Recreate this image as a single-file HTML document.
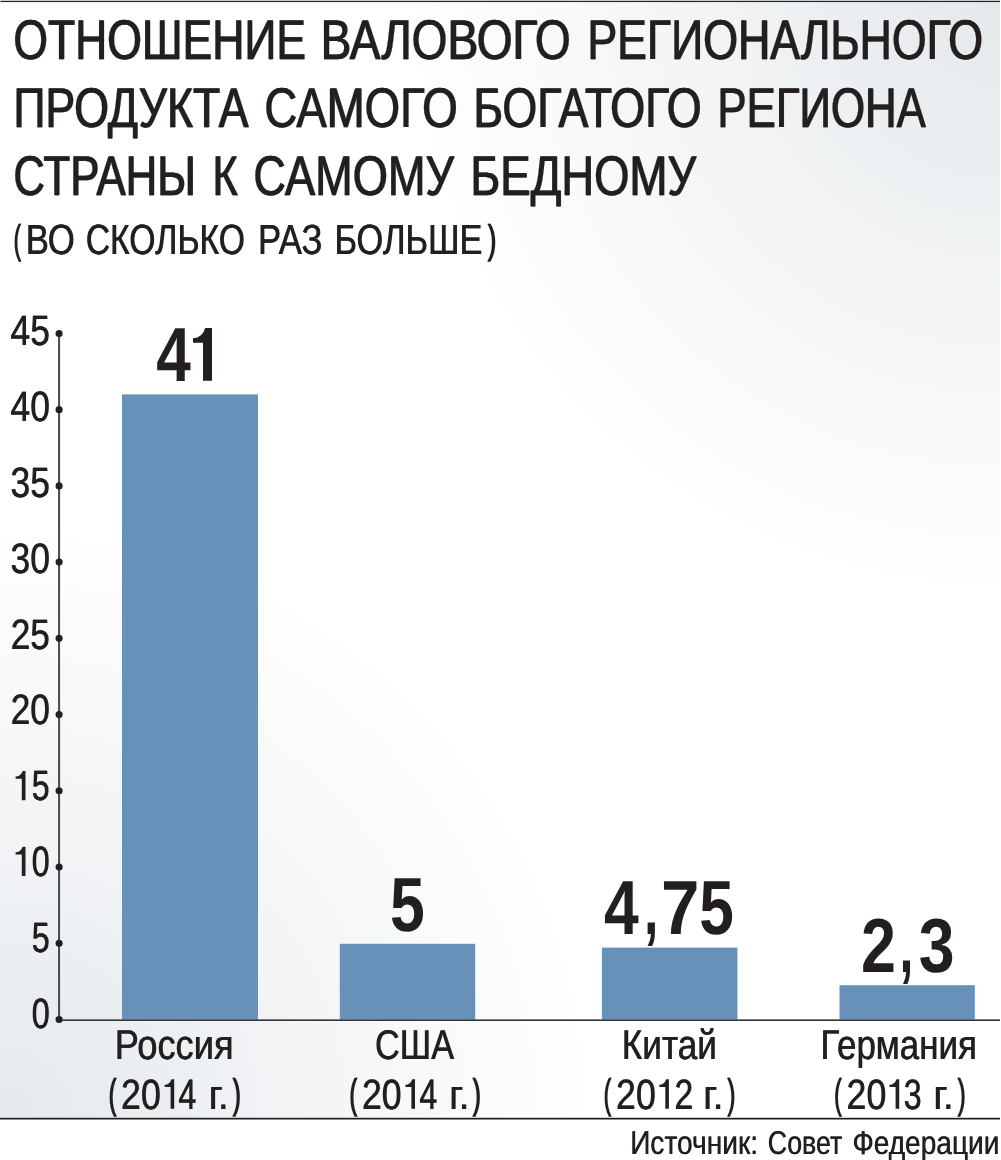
<!DOCTYPE html>
<html lang="ru"><head><meta charset="utf-8"><title>chart</title>
<style>
html,body{margin:0;padding:0;background:#fff;}
body{width:1001px;height:1160px;position:relative;overflow:hidden;font-family:"Liberation Sans",sans-serif;}
#box{position:absolute;left:0;top:0;width:1000px;height:1119px;background:
 radial-gradient(circle 600px at 100% 0%, rgba(229,233,236,1) 0%, rgba(229,233,236,0) 100%),
 radial-gradient(circle 600px at 0% 100%, rgba(229,233,237,1) 0%, rgba(229,233,237,0) 100%),
 #ffffff;}
</style></head><body>
<div id="box"></div>
<svg width="1001" height="1160" viewBox="0 0 1001 1160" style="position:absolute;left:0;top:0;will-change:transform;text-rendering:geometricPrecision">
<rect x="122.0" y="394.4" width="136.0" height="625.1" fill="#6891ba"/>
<rect x="339.8" y="943.8" width="135.4" height="75.7" fill="#6891ba"/>
<rect x="601.9" y="947.6" width="135.5" height="71.9" fill="#6891ba"/>
<rect x="839.5" y="985.2" width="135.3" height="34.3" fill="#6891ba"/>
<rect x="58.07" y="333.43" width="2.0" height="686.07" fill="#464a4e"/>
<rect x="59.1" y="1019.4" width="940.9" height="1.55" fill="#2b2e31"/>
<circle cx="59.1" cy="1019.50" r="3.55" fill="#231f20"/>
<circle cx="59.1" cy="943.27" r="3.55" fill="#231f20"/>
<circle cx="59.1" cy="867.04" r="3.55" fill="#231f20"/>
<circle cx="59.1" cy="790.81" r="3.55" fill="#231f20"/>
<circle cx="59.1" cy="714.58" r="3.55" fill="#231f20"/>
<circle cx="59.1" cy="638.35" r="3.55" fill="#231f20"/>
<circle cx="59.1" cy="562.12" r="3.55" fill="#231f20"/>
<circle cx="59.1" cy="485.89" r="3.55" fill="#231f20"/>
<circle cx="59.1" cy="409.66" r="3.55" fill="#231f20"/>
<circle cx="59.1" cy="333.43" r="3.55" fill="#231f20"/>
<rect x="0" y="0" width="1000" height="1" fill="#dddddf"/><rect x="0.5" y="0.9" width="999.4" height="1.15" fill="#232224"/>
<rect x="0" y="1117.8" width="1000" height="1.7" fill="#1f1e1f"/>
<g fill="#231f20" font-family="Liberation Sans, sans-serif">
<g id="g0" stroke="#231f20" stroke-width="0.3">
<text transform="translate(12.93 59) scale(0.7961 1)" font-size="55.89">ОТНОШЕНИЕ</text>
<text transform="translate(320.13 59) scale(0.8242 1)" font-size="55.89">ВАЛОВОГО</text>
<text transform="translate(586.92 59) scale(0.7994 1)" font-size="55.89">РЕГИОНАЛЬНОГО</text>
<text transform="translate(12.92 127) scale(0.7987 1)" font-size="55.89">ПРОДУКТА</text>
<text transform="translate(263.99 127) scale(0.8155 1)" font-size="55.89">САМОГО</text>
<text transform="translate(473.11 127) scale(0.8015 1)" font-size="55.89">БОГАТОГО</text>
<text transform="translate(716.98 127) scale(0.7836 1)" font-size="55.89">РЕГИОНА</text>
<text transform="translate(12.95 195) scale(0.7828 1)" font-size="55.89">СТРАНЫ</text>
<text transform="translate(211.98 195) scale(0.7833 1)" font-size="55.89">К</text>
<text transform="translate(253.01 195) scale(0.8075 1)" font-size="55.89">САМОМУ</text>
<text transform="translate(469.97 195) scale(0.8137 1)" font-size="55.89">БЕДНОМУ</text>
</g>
<use href="#g0" x="0.85"/>
<g id="g1" stroke="#231f20" stroke-width="0.12">
<text transform="translate(13.13 253) scale(0.5528 1)" font-size="40.45">(</text>
<text transform="translate(487.24 253) scale(0.6385 1)" font-size="40.45">)</text>
<text transform="translate(108.23 1108) scale(0.5528 1)" font-size="41.54">(</text>
<text transform="translate(232.24 1108) scale(0.5858 1)" font-size="41.54">)</text>
<text transform="translate(349.03 1108) scale(0.5528 1)" font-size="41.54">(</text>
<text transform="translate(472.24 1108) scale(0.5858 1)" font-size="41.54">)</text>
<text transform="translate(603.13 1108) scale(0.5528 1)" font-size="41.54">(</text>
<text transform="translate(726.94 1108) scale(0.5858 1)" font-size="41.54">)</text>
<text transform="translate(833.63 1108) scale(0.5528 1)" font-size="41.54">(</text>
<text transform="translate(957.14 1108) scale(0.5858 1)" font-size="41.54">)</text>
</g>
<use href="#g1" x="0.9"/>
<g id="g2" stroke="#231f20" stroke-width="0.12">
<text transform="translate(25.47 254) scale(0.8265 1)" font-size="42.12">ВО</text>
<text transform="translate(85.44 254) scale(0.8018 1)" font-size="42.12">СКОЛЬКО</text>
<text transform="translate(257.78 254) scale(0.8243 1)" font-size="42.12">РАЗ</text>
<text transform="translate(334.20 254) scale(0.8161 1)" font-size="42.12">БОЛЬШЕ</text>
<text transform="translate(31.49 1028) scale(0.7599 1)" font-size="42.56">0</text>
<text transform="translate(31.49 952) scale(0.7599 1)" font-size="42.56">5</text>
<text transform="translate(31.59 876) scale(0.7552 1)" font-size="42.56">0</text>
<text transform="translate(31.59 800) scale(0.7552 1)" font-size="42.56">5</text>
<text transform="translate(10.39 724) scale(0.8280 1)" font-size="42.56">20</text>
<text transform="translate(10.39 649) scale(0.8280 1)" font-size="42.56">25</text>
<text transform="translate(10.22 573) scale(0.8318 1)" font-size="42.56">30</text>
<text transform="translate(10.22 497) scale(0.8318 1)" font-size="42.56">35</text>
<text transform="translate(10.25 421) scale(0.8311 1)" font-size="42.56">40</text>
<text transform="translate(10.25 345) scale(0.8311 1)" font-size="42.56">45</text>
<text transform="translate(114.43 1059) scale(0.8729 1)" font-size="41.54">Россия</text>
<text transform="translate(374.80 1059) scale(0.8240 1)" font-size="41.54">США</text>
<text transform="translate(621.61 1059) scale(0.8464 1)" font-size="41.54">Китай</text>
<text transform="translate(820.13 1059) scale(0.8412 1)" font-size="41.54">Германия</text>
<text transform="translate(120.87 1109) scale(0.8420 1)" font-size="42.41">20</text>
<text transform="translate(178.35 1109) scale(0.7526 1)" font-size="42.41">4</text>
<text transform="translate(208.50 1109) scale(0.9261 1)" font-size="41.54">г.</text>
<text transform="translate(361.67 1109) scale(0.8420 1)" font-size="42.41">20</text>
<text transform="translate(419.15 1109) scale(0.7526 1)" font-size="42.41">4</text>
<text transform="translate(449.10 1109) scale(0.9261 1)" font-size="41.54">г.</text>
<text transform="translate(615.77 1109) scale(0.8420 1)" font-size="42.41">20</text>
<text transform="translate(674.16 1109) scale(0.7952 1)" font-size="42.41">2</text>
<text transform="translate(703.10 1109) scale(0.9261 1)" font-size="41.54">г.</text>
<text transform="translate(846.27 1109) scale(0.8420 1)" font-size="42.41">20</text>
<text transform="translate(903.39 1109) scale(0.7576 1)" font-size="42.41">3</text>
<text transform="translate(933.30 1109) scale(0.9261 1)" font-size="41.54">г.</text>
</g>
<use href="#g2" x="0.5"/>
<g id="g3" font-weight="700">
<text transform="translate(156.19 381) scale(0.8095 1)" font-size="76.75">4</text>
<text transform="translate(389.97 931) scale(0.8154 1)" font-size="76.75">5</text>
<text transform="translate(603.99 934) scale(0.8143 1)" font-size="76.75">4</text>
<text transform="translate(644.02 934) scale(0.6750 1)" font-size="76.75">,</text>
<text transform="translate(660.90 934) scale(0.9000 1)" font-size="76.75">7</text>
<text transform="translate(699.28 934) scale(0.8103 1)" font-size="76.75">5</text>
<text transform="translate(861.06 972) scale(0.8184 1)" font-size="76.75">2</text>
<text transform="translate(899.55 972) scale(0.6500 1)" font-size="76.75">,</text>
<text transform="translate(918.76 972) scale(0.8385 1)" font-size="76.75">3</text>
</g>
<g id="g4">
<text transform="translate(629.90 1154) scale(0.8525 1)" font-size="32.99">Источник:</text>
<text transform="translate(767.59 1154) scale(0.8116 1)" font-size="32.99">Совет</text>
<text transform="translate(852.15 1154) scale(0.8509 1)" font-size="32.99">Федерации</text>
</g>
<use href="#g4" x="0.5"/>
<path d="M25.50 846.68 L25.50 876.08 L21.80 876.08 L21.80 854.56 L15.60 854.56 L15.60 852.27 Q20.90 852.07 22.70 846.68 Z"/>
<path d="M25.50 770.92 L25.50 800.32 L21.80 800.32 L21.80 778.80 L15.60 778.80 L15.60 776.51 Q20.90 776.31 22.70 770.92 Z"/>
<path d="M174.20 1079.20 L174.20 1108.70 L170.60 1108.70 L170.60 1087.11 L164.70 1087.11 L164.70 1084.81 Q169.70 1084.61 171.50 1079.20 Z"/>
<path d="M415.00 1079.20 L415.00 1108.70 L411.40 1108.70 L411.40 1087.11 L405.50 1087.11 L405.50 1084.81 Q410.50 1084.61 412.30 1079.20 Z"/>
<path d="M668.90 1079.20 L668.90 1108.70 L665.30 1108.70 L665.30 1087.11 L659.30 1087.11 L659.30 1084.81 Q664.40 1084.61 666.20 1079.20 Z"/>
<path d="M899.20 1079.20 L899.20 1108.70 L895.60 1108.70 L895.60 1087.11 L889.50 1087.11 L889.50 1084.81 Q894.70 1084.61 896.50 1079.20 Z"/>
<path d="M212 328 L212 380.8 L203 380.8 L203 342.8 L193 342.8 L193 338.2 Q202.6 337.8 205.2 328 Z"/>
</g></svg>
</body></html>
